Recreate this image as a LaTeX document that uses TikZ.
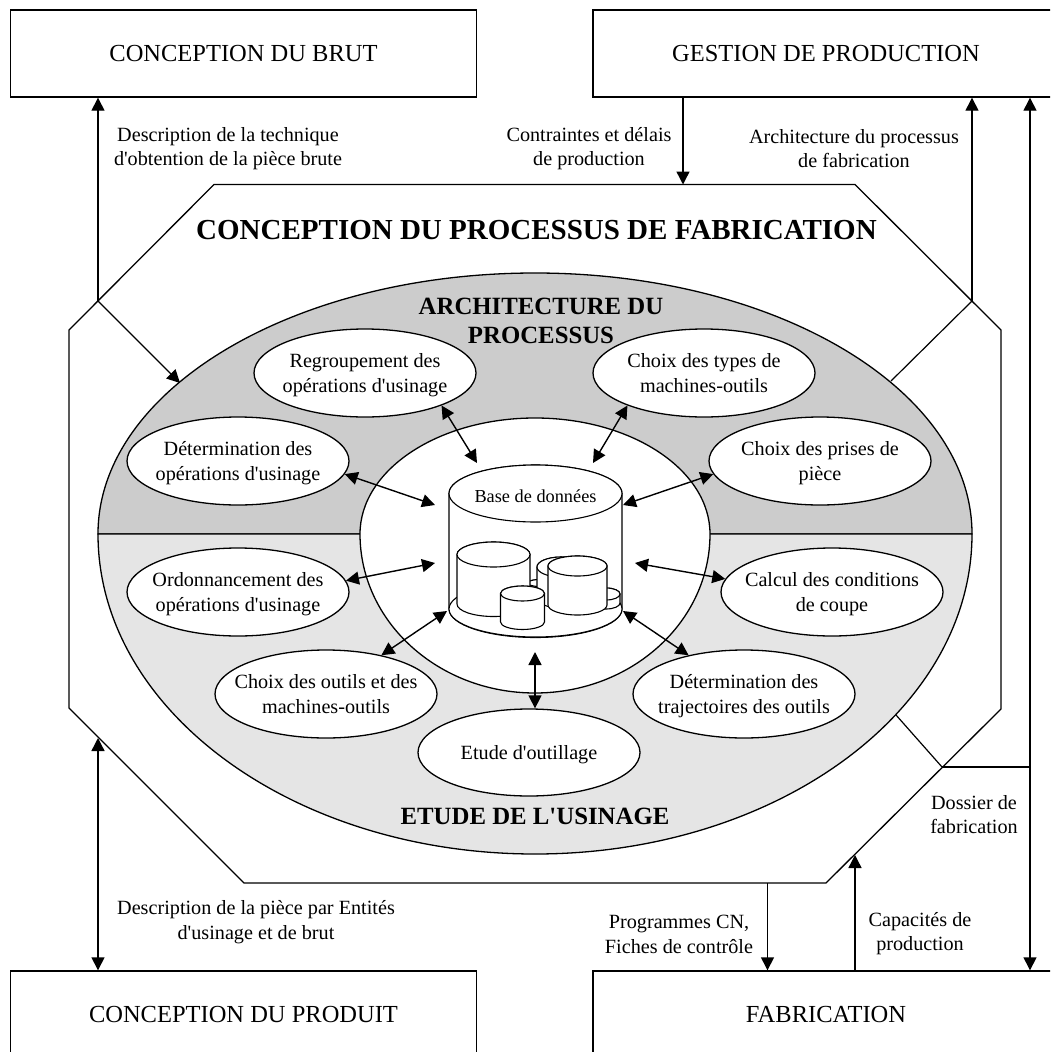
\documentclass[tikz,border=0pt]{standalone}
\usepackage{fontspec}
\setmainfont{Liberation Serif}
\usetikzlibrary{shapes.geometric,arrows.meta,calc}
\definecolor{upgray}{HTML}{CCCCCC}
\definecolor{lowgray}{HTML}{E5E5E5}
\newcommand{\aq}{\textquotesingle{}}
\newcommand{\tasklines}[1]{\makebox[0pt]{\raisebox{-7.5pt}[0pt][0pt]{\begin{tabular}{@{}c@{}}#1\end{tabular}}}}
\newcommand{\dbcyl}[5]{%
  \path[cylpart] (#1-#4,#2) -- (#1-#4,#3) arc[start angle=180,end angle=360,x radius=#4pt,y radius=#5pt] -- (#1+#4,#2) arc[start angle=0,end angle=180,x radius=#4pt,y radius=#5pt] -- cycle;
  \path[cylpart] (#1,#2) ellipse[x radius=#4pt,y radius=#5pt];
}
\tikzset{
  cylpart/.style={draw=black,fill=white,line width=1.1pt},
  outline/.style={draw=black,line width=1.3pt},
  flow/.style={draw=black,line width=1.4pt},
  single/.style={flow,-{Triangle[length=13pt,width=13pt]}},
  both/.style={flow,{Triangle[length=13pt,width=13pt]}-{Triangle[length=13pt,width=13pt]}},
  boxnode/.style={draw=black,line width=1.4pt,fill=white,rectangle,minimum width=466pt,minimum height=87pt,inner sep=0pt,font=\fontsize{24.5}{26}\selectfont},
  task/.style={draw=black,line width=1.3pt,fill=white,ellipse,minimum width=222pt,minimum height=88pt,inner sep=0pt,font=\fontsize{20.2}{24.7}\selectfont},
  lab/.style={inner sep=0pt,align=center,font=\fontsize{20.2}{24.7}\selectfont},
}
\begin{document}
\begin{tikzpicture}[x=1pt,y=-1pt]
\useasboundingbox (0,0) rectangle (1050,1052);
\clip (0,0) rectangle (1050,1052);
% boxes
\node[boxnode] (brut) at (243.5,53.5) {CONCEPTION DU BRUT};
\node[boxnode] (gestion) at (826,53.5) {GESTION DE PRODUCTION};
\node[boxnode] (produit) at (243.5,1014.5) {CONCEPTION DU PRODUIT};
\node[boxnode] (fabr) at (826,1014.5) {FABRICATION};
% octagon
\path[outline,fill=white] (214,184.5) -- (855,184.5) -- (1001,330) -- (1001,709) -- (826,883) -- (244,883) -- (69,708) -- (69,330) -- cycle;
% coordinates on the octagon
\coordinate (jTL) at (98,301);
\coordinate (jTR) at (972,301);
\coordinate (jBL) at (98,738);
\coordinate (jDos) at (942,767);
\coordinate (oTop) at (683,184.5);
\coordinate (oProg) at (767.5,883);
\coordinate (oCap) at (855,855);
\coordinate (eTL) at (180,383);
\coordinate (eTR) at (891,381);
\coordinate (eDos) at (896,715);
\coordinate (rail) at (1030,767);
% big ellipse
\path[outline,fill=upgray] (98,534) arc[start angle=180,end angle=0,x radius=437pt,y radius=261pt] -- cycle;
\path[outline,fill=lowgray] (98,534) arc[start angle=180,end angle=360,x radius=437pt,y radius=320pt] -- cycle;
% inner ellipse
\path[outline,fill=white] (360,534) arc[start angle=180,end angle=0,x radius=175pt,y radius=116pt] arc[start angle=360,end angle=180,x radius=175pt,y radius=159pt];
% database
\dbcyl{535.5}{493.5}{609}{86.5}{28.5}
\path[cylpart] (535.5,609) ellipse[x radius=86.5pt,y radius=28pt];
\dbcyl{606}{594}{603}{14}{6}
\dbcyl{547}{583}{600}{20}{4}
\dbcyl{561}{567}{598}{24}{10}
\dbcyl{493.5}{554.5}{604}{36.5}{12.5}
\dbcyl{577.5}{566}{605}{29.5}{10}
\dbcyl{522.5}{593.5}{622}{22}{7.5}
\node[lab,font=\fontsize{18.3}{20}\selectfont] (base) at (535.5,496) {Base de données};
% task ellipses
\node[task] (regroup) at (365,373) {\tasklines{Regroupement des\\opérations d\aq usinage}};
\node[task] (types) at (704,373) {\tasklines{Choix des types de\\machines-outils}};
\node[task] (determ) at (238,461) {\tasklines{Détermination des\\opérations d\aq usinage}};
\node[task] (prises) at (820,461) {\tasklines{Choix des prises de\\pièce}};
\node[task] (ordo) at (238,592) {\tasklines{Ordonnancement des\\opérations d\aq usinage}};
\node[task] (calcul) at (832,592) {\tasklines{Calcul des conditions\\de coupe}};
\node[task] (outils) at (326,694) {\tasklines{Choix des outils et des\\machines-outils}};
\node[task] (traj) at (744,694) {\tasklines{Détermination des\\trajectoires des outils}};
\node[task,minimum height=87pt] (etude) at (529,752.5) {\tasklines{Etude d\aq outillage}};
% internal arrows
\coordinate (d1) at (477,463);
\coordinate (d2) at (593,463);
\coordinate (d3) at (435,505);
\coordinate (d4) at (623,505);
\coordinate (d5) at (435,563);
\coordinate (d6) at (635,563);
\coordinate (d7) at (447,611);
\coordinate (d8) at (623,611);
\coordinate (d9) at (535,652);
\draw[both] (regroup.-23) -- (d1);
\draw[both] (types.203) -- (d2);
\draw[both] (determ.-7.6) -- (d3);
\draw[both] (prises.187.6) -- (d4);
\draw[both] (ordo.6.6) -- (d5);
\draw[both] (calcul.173.4) -- (d6);
\draw[both] (outils.35) -- (d7);
\draw[both] (traj.145) -- (d8);
\draw[both] (d9) -- (d9 |- etude.north);
% outer connectors
\draw[single] (jTL) -- (jTL |- brut.south);
\draw[single,line width=1.2pt] (jTL) -- (eTL);
\draw[single] (oTop |- gestion.south) -- (oTop);
\draw[single] (jTR) -- (jTR |- gestion.south);
\draw[flow,line width=1.2pt] (jTR) -- (eTR);
\draw[both] (rail |- gestion.south) -- (rail |- fabr.north);
\draw[flow] (jDos) -- (rail);
\draw[flow,line width=1.2pt] (jDos) -- (eDos);
\draw[both] (jBL) -- (jBL |- produit.north);
\draw[single] (oProg) -- (oProg |- fabr.north);
\draw[single] (oCap |- fabr.north) -- (oCap);
% labels
\node[lab] (l1) at (228,148.5) {Description de la technique\\d\aq obtention de la pièce brute};
\node[lab] (l2) at (589,148.5) {Contraintes et délais\\de production};
\node[lab] (l3) at (854,148.5) {Architecture du processus\\de fabrication};
\node[lab] (l4) at (256,922) {Description de la pièce par Entités\\d\aq usinage et de brut};
\node[lab] (l5) at (679,934.5) {Programmes CN,\\Fiches de contrôle};
\node[lab] (l6) at (920,933.5) {Capacités de\\production};
\node[lab] (l7) at (974,814.5) {Dossier de\\fabrication};
\node[lab,font=\bfseries\fontsize{29}{32}\selectfont] (title) at (536.5,230) {CONCEPTION DU PROCESSUS DE FABRICATION};
\node[lab,font=\bfseries\fontsize{24.8}{29}\selectfont] (arch) at (541,320.5) {ARCHITECTURE DU\\PROCESSUS};
\node[lab,font=\bfseries\fontsize{24.8}{26}\selectfont] (usin) at (535,816) {ETUDE DE L\aq USINAGE};
\end{tikzpicture}
\end{document}
